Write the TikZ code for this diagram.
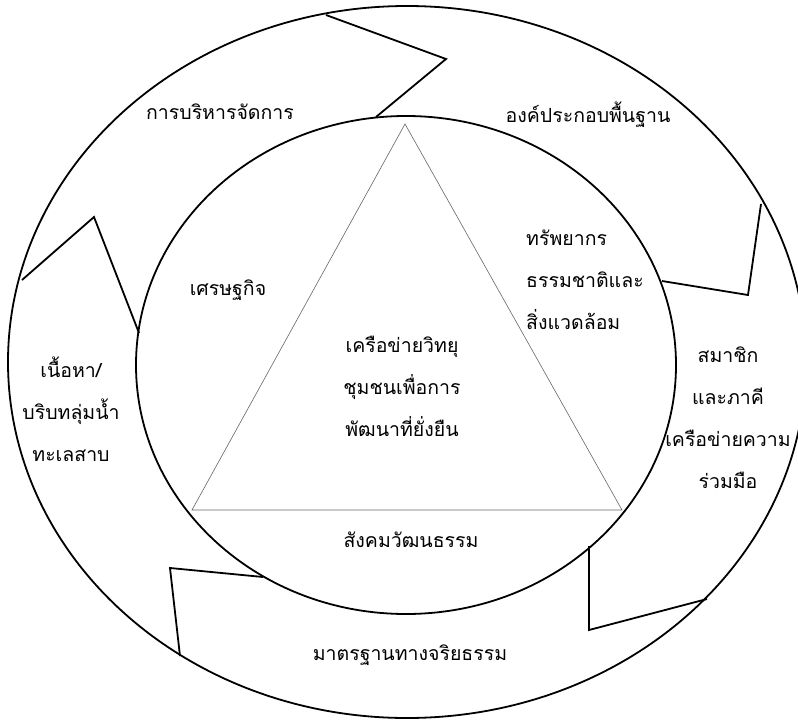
\documentclass[tikz,border=0pt]{standalone}
\usepackage{fontspec}
\newfontfamily\thaifont[Script=Thai]{Loma}
\begin{document}
\begin{tikzpicture}[x=1pt,y=-1pt,
  ring/.style={line width=1.8pt,black},
  zig/.style={line width=1.8pt,black,line join=miter},
  tri/.style={line width=0.6pt,black!60},
  lbl/.style={font=\thaifont\fontsize{19.5}{42}\selectfont,align=center,inner sep=0pt}]
\useasboundingbox (0,0) rectangle (798,720);
\fill[white] (0,0) rectangle (798,720);
% rings
\draw[ring] (407,362) ellipse [x radius=399, y radius=356];
\draw[ring] (406,365) ellipse [x radius=270, y radius=249];
% triangle
\coordinate (ta) at (405,124);
\coordinate (tl) at (192,510);
\coordinate (tr) at (622,510);
\draw[tri] (ta) -- (tl) -- (tr) -- cycle;
% zigzag arrows
\coordinate (z1a) at (326,15);  \coordinate (z1b) at (446,59);  \coordinate (z1c) at (376,117);
\coordinate (z2a) at (662,281); \coordinate (z2b) at (748,295); \coordinate (z2c) at (761,204);
\coordinate (z3a) at (589,546); \coordinate (z3b) at (589,630); \coordinate (z3c) at (707,599);
\coordinate (z4a) at (263,577); \coordinate (z4b) at (170,568); \coordinate (z4c) at (180,656);
\coordinate (z5a) at (22,280);  \coordinate (z5b) at (94,217);  \coordinate (z5c) at (139,333);
\draw[zig] (z1a) -- (z1b) -- (z1c);
\draw[zig] (z2a) -- (z2b) -- (z2c);
\draw[zig] (z3a) -- (z3b) -- (z3c);
\draw[zig] (z4a) -- (z4b) -- (z4c);
\draw[zig] (z5a) -- (z5b) -- (z5c);
% labels
\node[lbl] (mgmt) at (220,112) {การบริหารจัดการ};
\node[lbl] (base) at (588,115) {องค์ประกอบพื้นฐาน};
\node[lbl] (econ) at (228,290) {เศรษฐกิจ};
\node[lbl,align=left,anchor=west] (env) at (526,280) {ทรัพยากร\\ธรรมชาติและ\\สิ่งแวดล้อม};
\node[lbl] (core) at (402,386) {เครือข่ายวิทยุ\\ชุมชนเพื่อการ\\พัฒนาที่ยั่งยืน};
\node[lbl] (memb) at (728,418) {สมาชิก\\และภาคี\\เครือข่ายความ\\ร่วมมือ};
\node[lbl] (cont) at (71,409) {เนื้อหา/\\บริบทลุ่มน้ำ\\ทะเลสาบ};
\node[lbl] (soc) at (411,540) {สังคมวัฒนธรรม};
\node[lbl] (eth) at (410,655) {มาตรฐานทางจริยธรรม};
\end{tikzpicture}
\end{document}
